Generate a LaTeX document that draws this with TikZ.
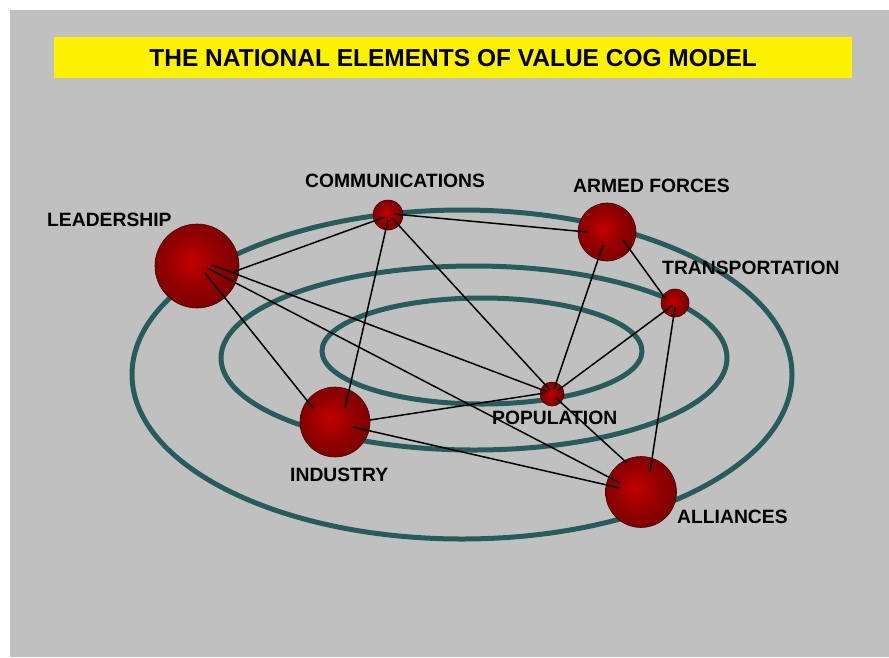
\documentclass[tikz,border=0pt]{standalone}
\usepackage{fontspec}
\setmainfont{Liberation Sans}
\definecolor{bggray}{RGB}{192,192,192}
\definecolor{ringc}{RGB}{40,92,92}
\definecolor{sphA}{RGB}{195,0,0}
\definecolor{sphB}{RGB}{150,0,0}
\definecolor{sphC}{RGB}{98,0,0}
\definecolor{sphD}{RGB}{68,0,0}
\definecolor{sphline}{RGB}{70,0,0}
\pgfdeclareradialshading{sphere}{\pgfpoint{-4bp}{3bp}}{color(0bp)=(sphA); color(15bp)=(sphB); color(40bp)=(sphC); color(50bp)=(sphD)}
\begin{document}
\begin{tikzpicture}[x=1pt,y=-1pt,
  ring/.style={draw=ringc, line width=5pt},
  ball/.style={circle, inner sep=0pt, shading=sphere, draw=sphline, line width=0.6pt},
  link/.style={black, line width=1.5pt},
  lbl/.style={anchor=west, inner sep=0pt, font=\fontsize{19.3}{22}\selectfont\bfseries}]
\useasboundingbox (0,0) rectangle (889,657);
\fill[white] (0,0) rectangle (889,657);
\fill[bggray] (10,10) rectangle (889,657);
\node[fill=yellow, minimum width=798pt, minimum height=41pt, anchor=north west, inner sep=0pt] (banner) at (54,37)
  {\fontsize{24.5}{30}\selectfont\bfseries THE NATIONAL ELEMENTS OF VALUE COG MODEL};

% rings
\draw[ring] (462,374.5) ellipse [x radius=330pt, y radius=164.5pt];
\draw[ring] (474,358) ellipse [x radius=253pt, y radius=92pt];
\draw[ring] (482,351) ellipse [x radius=160pt, y radius=53pt];

% spheres
\node[ball, minimum size=84pt] (lead) at (197,266) {};
\node[ball, minimum size=30pt] (comm) at (388,215) {};
\node[ball, minimum size=58pt] (armed) at (607,232) {};
\node[ball, minimum size=28pt] (trans) at (675,303) {};
\node[ball, minimum size=24pt] (pop) at (552,394) {};
\node[ball, minimum size=70pt] (ind) at (335,422) {};
\node[ball, minimum size=71pt] (all) at (641,492) {};

% links
\draw[link] ([shift={(36,6)}]lead.center) -- ([shift={(-3,2)}]comm.center);
\draw[link] ([shift={(15,-1)}]lead.center) -- ([shift={(-4,-2)}]pop.center);
\draw[link] ([shift={(10,2)}]lead.center) -- ([shift={(-21,-9)}]all.center);
\draw[link] ([shift={(8,7)}]lead.center) -- ([shift={(-22,-14)}]ind.center);
\draw[link] ([shift={(6,-1)}]comm.center) -- ([shift={(-20,0)}]armed.center);
\draw[link] ([shift={(0,5)}]comm.center) -- ([shift={(10,-14)}]ind.center);
\draw[link] ([shift={(4,3)}]comm.center) -- ([shift={(-2,-4)}]pop.center);
\draw[link] ([shift={(16,8)}]armed.center) -- ([shift={(-10,-5)}]trans.center);
\draw[link] ([shift={(-4,13)}]armed.center) -- ([shift={(2,-5)}]pop.center);
\draw[link] ([shift={(-2,2)}]trans.center) -- ([shift={(5,-3)}]pop.center);
\draw[link] ([shift={(0,4)}]trans.center) -- ([shift={(9,-20)}]all.center);
\draw[link] ([shift={(35,-2)}]ind.center) -- ([shift={(-7,-1)}]pop.center);
\draw[link] ([shift={(18,5)}]ind.center) -- ([shift={(-21,-4)}]all.center);
\draw[link] ([shift={(4,4)}]pop.center) -- ([shift={(-14,-29)}]all.center);

% labels
\node[lbl] (tlead) at (47,220) {LEADERSHIP};
\node[lbl] (tcomm) at (305,181) {COMMUNICATIONS};
\node[lbl] (tarmed) at (573,186) {ARMED FORCES};
\node[lbl] (ttrans) at (662,268) {TRANSPORTATION};
\node[lbl] (tpop) at (492,418) {POPULATION};
\node[lbl] (tind) at (290,475) {INDUSTRY};
\node[lbl] (tall) at (677,517) {ALLIANCES};
\end{tikzpicture}
\end{document}
